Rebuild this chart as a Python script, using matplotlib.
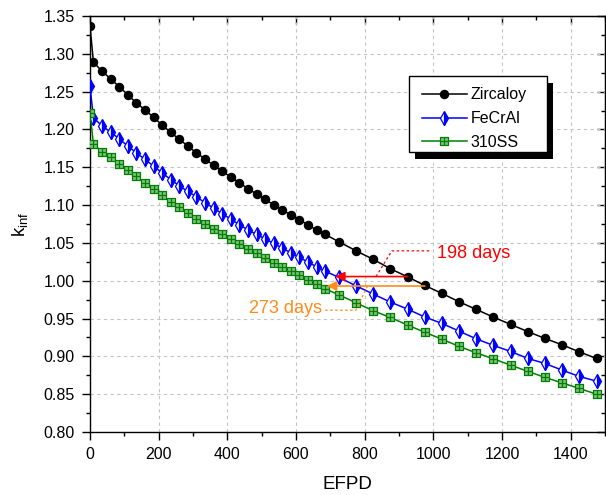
import matplotlib.pyplot as plt
from matplotlib.path import Path
from matplotlib.patches import Rectangle
from matplotlib.ticker import MultipleLocator

plt.rcParams['font.family'] = ['Liberation Sans', 'DejaVu Sans']
plt.rcParams['mathtext.default'] = 'regular'

days = [0, 10, 35, 60, 85, 110, 135, 160, 185, 210, 235, 260, 285, 310, 335,
        360, 385, 410, 435, 460, 485, 510, 535, 560, 585, 610, 635, 660, 685,
        725, 775, 825, 875, 925, 975, 1025, 1075, 1125, 1175, 1225, 1275,
        1325, 1375, 1425, 1475]

zircaloy = [1.337, 1.289, 1.277, 1.267, 1.2565, 1.246, 1.235, 1.226, 1.216,
            1.206, 1.196, 1.187, 1.178, 1.169, 1.161, 1.1525, 1.1445, 1.1372,
            1.1295, 1.1217, 1.1147, 1.1075, 1.1004, 1.0938, 1.0868, 1.0806,
            1.0738, 1.0669, 1.0612, 1.0514, 1.0395, 1.0282, 1.0157, 1.0051,
            0.9937, 0.9832, 0.9721, 0.962, 0.9518, 0.9422, 0.9327, 0.9237,
            0.9152, 0.9059, 0.8972]

fecral = [1.257, 1.2155, 1.2047, 1.1966, 1.1875, 1.1782, 1.169, 1.1604,
          1.1516, 1.1425, 1.1338, 1.1255, 1.118, 1.111, 1.103, 1.096, 1.0885,
          1.0815, 1.0739, 1.0673, 1.0612, 1.0554, 1.0493, 1.0431, 1.0369,
          1.0308, 1.0246, 1.0184, 1.0127, 1.0043, 0.9932, 0.9823, 0.9717,
          0.9624, 0.952, 0.9435, 0.9333, 0.9231, 0.9144, 0.9065, 0.8972,
          0.8906, 0.8817, 0.8734, 0.8672]

ss310 = [1.222, 1.1807, 1.1703, 1.163, 1.1545, 1.146, 1.138, 1.1295, 1.1214,
         1.1132, 1.1044, 1.0977, 1.0895, 1.0815, 1.0749, 1.0682, 1.0616,
         1.0554, 1.0484, 1.0418, 1.0361, 1.0299, 1.0237, 1.0184, 1.0131,
         1.0074, 1.0012, 0.9955, 0.9893, 0.9813, 0.9708, 0.9602, 0.9514,
         0.9413, 0.9318, 0.9227, 0.9131, 0.9046, 0.8967, 0.8883, 0.8802,
         0.8721, 0.8649, 0.8575, 0.85]

orange = '#ff8c1a'

# square with a cross inside
sq_cross = Path([(-1, -1), (1, -1), (1, 1), (-1, 1), (-1, -1),
                 (0, -1), (0, 1), (-1, 0), (1, 0)],
                [Path.MOVETO, Path.LINETO, Path.LINETO, Path.LINETO, Path.CLOSEPOLY,
                 Path.MOVETO, Path.LINETO, Path.MOVETO, Path.LINETO])

fig = plt.figure(figsize=(6.06, 4.95), dpi=100)
ax = fig.add_axes([0.1485, 0.1273, 0.8500, 0.8404])

ax.plot(days, zircaloy, '-o', color='black', ms=5.8, lw=1.1, label='Zircaloy', zorder=4)
ax.plot(days, fecral, '-', color='blue', marker='d', ms=7.5, fillstyle='right',
        mfc='blue', mfcalt='white', mec='blue', mew=0.9, lw=1.1, label='FeCrAl', zorder=4)
ax.plot(days, ss310, '-', color='#008000', marker=sq_cross, ms=5.2, mfc='#80c080',
        mec='#008000', mew=0.9, lw=1.1, label='310SS', zorder=4)

# arrows
ax.annotate('', xy=(714, 1.0055), xytext=(925, 1.0055),
            arrowprops=dict(arrowstyle='-|>', color='red', lw=1.2,
                            shrinkA=0, shrinkB=0, mutation_scale=14), zorder=6)
ax.annotate('', xy=(690, 0.993), xytext=(975, 0.993),
            arrowprops=dict(arrowstyle='-|>', color=orange, lw=1.2,
                            shrinkA=0, shrinkB=0, mutation_scale=14), zorder=6)

ax.plot([833, 879, 995], [1.0055, 1.0395, 1.0395], color='red', ls=(0, (2, 2)), lw=0.9, zorder=6)
ax.text(1010, 1.030, '198 days', color='red', fontsize=13, ha='left', va='baseline')
ax.plot([808, 774, 682], [0.993, 0.961, 0.961], color=orange, ls=(0, (2, 2)), lw=0.9, zorder=6)
ax.text(675, 0.9575, '273 days', color=orange, fontsize=13, ha='right', va='baseline')

ax.set_xlim(0, 1500)
ax.set_ylim(0.80, 1.35)
ax.xaxis.set_major_locator(MultipleLocator(200))
ax.xaxis.set_minor_locator(MultipleLocator(100))
ax.yaxis.set_major_locator(MultipleLocator(0.05))
ax.yaxis.set_minor_locator(MultipleLocator(0.025))
ax.yaxis.set_major_formatter('{x:.2f}')
ax.tick_params(which='both', direction='out', width=1, labelsize=11.5, pad=5)
ax.tick_params(which='major', length=6)
ax.tick_params(which='minor', length=3)
ax.grid(True, which='major', ls=(0, (3, 3)), color='#c4c4c4', lw=0.8)
ax.set_axisbelow(True)
for s in ax.spines.values():
    s.set_linewidth(1)

top = ax.secondary_xaxis('top')
top.xaxis.set_major_locator(MultipleLocator(200))
top.xaxis.set_minor_locator(MultipleLocator(100))
top.tick_params(which='both', direction='in', labeltop=False, width=1)
top.tick_params(which='major', length=6)
top.tick_params(which='minor', length=3)
right = ax.secondary_yaxis('right')
right.yaxis.set_major_locator(MultipleLocator(0.05))
right.yaxis.set_minor_locator(MultipleLocator(0.025))
right.tick_params(which='both', direction='in', labelright=False, width=1)
right.tick_params(which='major', length=6)
right.tick_params(which='minor', length=3)

ax.set_xlabel('EFPD', fontsize=13.5, labelpad=10)
ax.set_ylabel('k$_{inf}$', fontsize=13.5, labelpad=10)

# legend box with a solid offset shadow, placed as in the original
W, H = 606, 495
ax.add_patch(Rectangle((415 / W, 1 - 159.2 / H), 137.7 / W, 76 / H,
                       transform=fig.transFigure, facecolor='black', edgecolor='none',
                       zorder=8, clip_on=False))
ax.add_patch(Rectangle((409 / W, 1 - 151.7 / H), 137.7 / W, 76 / H,
                       transform=fig.transFigure, facecolor='white', edgecolor='black',
                       lw=1, zorder=9, clip_on=False))
leg = ax.legend(loc='upper left', bbox_to_anchor=(421.7 / W, 1 - 87.5 / H),
                bbox_transform=fig.transFigure, borderaxespad=0, borderpad=0,
                frameon=False, fontsize=11.5, handlelength=2.83,
                handletextpad=0.25, labelspacing=0.55)
leg.set_zorder(10)

fig.savefig('out.png', dpi=100)
